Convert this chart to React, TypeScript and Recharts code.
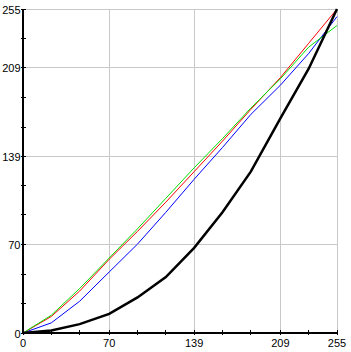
import React from "react";
import { LineChart, Line, XAxis, YAxis, ReferenceLine } from "recharts";

const xs = [0, 23, 46, 70, 93, 116, 139, 162, 185, 209, 232, 255];
const red = [0, 13, 33, 58, 80, 103, 127, 151, 176, 201, 228, 255];
const green = [0, 14, 35, 59, 82, 106, 130, 153, 177, 200, 225, 242];
const blue = [0, 8, 25, 48, 70, 95, 121, 146, 172, 195, 220, 249];
const black = [0, 2, 7, 15, 28, 44, 67, 95, 127, 169, 208, 255];

const tickValues = [0, 23, 46, 70, 93, 116, 139, 162, 185, 209, 232, 255];
const labeledTicks = [0, 70, 139, 209, 255];
const gridValues = [70, 139, 209, 255];

const data = xs.map((x, i) => ({ x, r: red[i], g: green[i], b: blue[i], k: black[i] }));

const FONT = "'Liberation Sans', Arial, sans-serif";

const labelOf = (v: number) => (labeledTicks.includes(v) ? String(v) : "");

const YTick = (props: any) => {
  const { x, y, payload } = props;
  const label = labelOf(payload.value);
  return (
    <g>
      <line x1={x - 2} x2={x + 3} y1={y} y2={y} stroke="#000" strokeWidth={1} shapeRendering="crispEdges" />
      {label && (
        <text x={x - 2.5} y={y} dy={5} textAnchor="end" fontFamily={FONT} fontSize={11} fill="#000">
          {label}
        </text>
      )}
    </g>
  );
};

const XTick = (props: any) => {
  const { x, y, payload } = props;
  const label = labelOf(payload.value);
  return (
    <g>
      <line x1={x} x2={x} y1={y - 3} y2={y + 2} stroke="#000" strokeWidth={1} shapeRendering="crispEdges" />
      {label && (
        <text x={x} y={y} dy={14} textAnchor="middle" fontFamily={FONT} fontSize={11} fill="#000">
          {label}
        </text>
      )}
    </g>
  );
};

export default function App() {
  return (
    <div style={{ position: "absolute", left: 0, top: 0, background: "#fff" }}>
      <LineChart width={351} height={352} data={data} margin={{ top: 9, right: 14, bottom: 0, left: 0 }}>
        {gridValues.map((v) => (
          <ReferenceLine key={"gx" + v} x={v} stroke="#c8c8c8" strokeWidth={1} shapeRendering="crispEdges" />
        ))}
        {gridValues.map((v) => (
          <ReferenceLine key={"gy" + v} y={v} stroke="#c8c8c8" strokeWidth={1} shapeRendering="crispEdges" />
        ))}
        <XAxis
          dataKey="x"
          type="number"
          domain={[0, 255]}
          ticks={tickValues}
          interval={0}
          height={19}
          tickSize={0}
          tickMargin={0}
          tickLine={false}
          axisLine={{ stroke: "#000", strokeWidth: 2 }}
          tick={<XTick />}
        />
        <YAxis
          type="number"
          domain={[0, 255]}
          ticks={tickValues}
          interval={0}
          width={23}
          tickSize={0}
          tickMargin={0}
          tickLine={false}
          axisLine={{ stroke: "#000", strokeWidth: 2 }}
          tick={<YTick />}
        />
        <Line dataKey="b" stroke="#0000ff" strokeWidth={1} dot={false} isAnimationActive={false} />
        <Line dataKey="r" stroke="#ff0000" strokeWidth={1} dot={false} isAnimationActive={false} />
        <Line dataKey="g" stroke="#00e000" strokeWidth={1} dot={false} isAnimationActive={false} />
        <Line dataKey="k" stroke="#000000" strokeWidth={2.5} dot={false} isAnimationActive={false} />
      </LineChart>
    </div>
  );
}
